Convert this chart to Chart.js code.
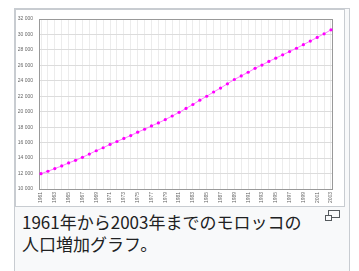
<!DOCTYPE html>
<html>
<head>
<meta charset="utf-8">
<script src="https://cdn.jsdelivr.net/npm/chart.js@4/dist/chart.umd.min.js"></script>
<style>
  body { margin: 0; background: #fff; width: 359px; height: 271px; overflow: hidden; position: relative; }
  #thumb { position: absolute; left: 14px; top: 8px; width: 334px; height: 262px; border: 1px solid #c8ccd1; background: #f8f9fa; }
  #img { position: absolute; left: 15px; top: 9px; width: 328px; height: 196px; border: 1px solid #c8ccd1; background: #fff; }
  #img canvas { display: block; }
  #caption { position: absolute; left: 22px; top: 211px; font-family: "Noto Sans CJK JP", sans-serif; font-size: 17px; line-height: 21.5px; color: #202122; white-space: nowrap; }
  .mag { position: absolute; border: 1px solid #54595d; }
  #magBig { left: 328px; top: 210px; width: 10px; height: 6px; background: #f8f9fa; }
  #magSmall { left: 325px; top: 215px; width: 5px; height: 4px; background: #f8f9fa; }
</style>
</head>
<body>
<div id="thumb"></div>
<div id="img"><canvas id="chart" width="328" height="196"></canvas></div>
<div id="caption">1961年から2003年までのモロッコの<br>人口増加グラフ。</div>
<div class="mag" id="magBig"></div>
<div class="mag" id="magSmall"></div>
<script>
// Morocco population (thousands)
const years = [1961, 1962, 1963, 1964, 1965, 1966, 1967, 1968, 1969, 1970,
               1971, 1972, 1973, 1974, 1975, 1976, 1977, 1978, 1979, 1980,
               1981, 1982, 1983, 1984, 1985, 1986, 1987, 1988, 1989, 1990,
               1991, 1992, 1993, 1994, 1995, 1996, 1997, 1998, 1999, 2000,
               2001, 2002, 2003];
const population = [11980, 12300, 12640, 12985, 13370, 13710, 14100, 14525, 14950, 15340,
                    15770, 16150, 16540, 16920, 17350, 17735, 18160, 18550, 18980, 19450,
                    19920, 20425, 20936, 21490, 22000, 22553, 23064, 23617, 24170, 24638,
                    25106, 25617, 26042, 26510, 26936, 27361, 27787, 28212, 28680, 29148,
                    29616, 30084, 30595];
const yTicks = [10000, 12000, 14000, 16000, 18000, 20000, 22000, 24000, 26000, 28000, 30000, 32000];

function spaced(v) {
    return String(v).replace(/\B(?=(\d{3})+(?!\d))/g, ' ');
}

const plotBorder = {
    id: 'plotBorder',
    beforeDatasetsDraw(chart) {
        const a = chart.chartArea;
        const ctx = chart.ctx;
        ctx.save();
        ctx.strokeStyle = '#999';
        ctx.lineWidth = 1;
        ctx.strokeRect(Math.round(a.left) + 0.5, Math.round(a.top) + 0.5,
                       Math.round(a.right - a.left) - 1, Math.round(a.bottom - a.top));
        ctx.restore();
    }
};

const tickFont = { family: 'Liberation Sans, Arial, sans-serif', size: 5 };

new Chart(document.getElementById('chart'), {
    type: 'line',
    data: {
        datasets: [{
            data: years.map((y, i) => ({ x: y, y: population[i] })),
            borderColor: '#ff7aff',
            borderWidth: 1,
            pointRadius: 1.6,
            pointBorderWidth: 0,
            pointBackgroundColor: '#ff00ff',
            pointStyle: 'circle',
            tension: 0
        }]
    },
    options: {
        responsive: false,
        animation: false,
        devicePixelRatio: 1,
        layout: { padding: { top: 6, right: 11, left: 0, bottom: 0 } },
        plugins: { legend: { display: false }, tooltip: { enabled: false } },
        scales: {
            x: {
                type: 'linear',
                min: 1960.71,
                max: 2003.29,
                afterBuildTicks: s => { s.ticks = years.map(v => ({ value: v })); },
                afterFit: s => { s.height = 17; },
                border: { display: false },
                grid: { color: '#ececec', drawTicks: false },
                ticks: {
                    autoSkip: false,
                    minRotation: 90,
                    maxRotation: 90,
                    padding: 3,
                    color: '#666',
                    font: tickFont,
                    callback: v => ((v - years[0]) % 2 === 0 ? String(v) : '')
                }
            },
            y: {
                min: yTicks[0],
                max: yTicks[yTicks.length - 1],
                afterBuildTicks: s => { s.ticks = yTicks.map(v => ({ value: v })); },
                afterFit: s => { s.width = 23; },
                border: { display: false },
                grid: { color: '#dcdcdc', drawTicks: false },
                ticks: {
                    padding: 6,
                    color: '#666',
                    font: tickFont,
                    callback: v => spaced(v)
                }
            }
        }
    },
    plugins: [plotBorder]
});
</script>
</body>
</html>
